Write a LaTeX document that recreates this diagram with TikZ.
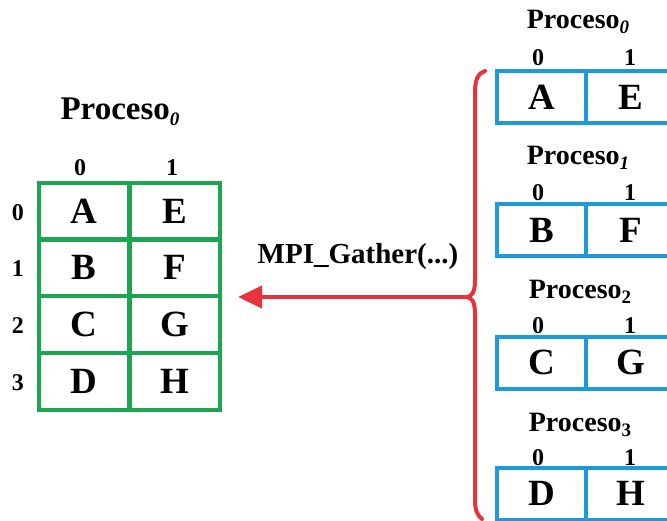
\documentclass[tikz,border=0pt]{standalone}
\usepackage{fontspec}
\setmainfont{Liberation Serif}
\usetikzlibrary{arrows.meta}

\definecolor{gathergreen}{HTML}{1DA650}
\definecolor{procblue}{HTML}{1E9BD7}
\definecolor{gatherred}{HTML}{E8323C}

\newcommand\procsub[1]{\raisebox{-0.4ex}{\fontsize{19}{19}\selectfont #1}}

\begin{document}
\begin{tikzpicture}[x=1pt,y=-1pt,
  greencell/.style={draw=gathergreen,line width=4pt,minimum width=90pt,minimum height=57pt,
    inner sep=0pt,font=\fontsize{37}{37}\selectfont\bfseries},
  bluecell/.style={draw=procblue,line width=4pt,minimum width=89pt,minimum height=52pt,
    inner sep=0pt,font=\fontsize{37}{37}\selectfont\bfseries},
  bigtitle/.style={font=\fontsize{33}{33}\selectfont\bfseries,inner sep=0pt},
  smalltitle/.style={font=\fontsize{28}{28}\selectfont\bfseries,inner sep=0pt},
  idx/.style={font=\fontsize{24}{24}\selectfont\bfseries,inner sep=0pt},
  callfont/.style={font=\fontsize{29}{29}\selectfont\bfseries,inner sep=0pt}]

\useasboundingbox (0,0) rectangle (667,520);

% gathered result on the root process
\node[bigtitle] (roottitle) at (120,112) {Proceso\procsub{\textit{0}}};
\node[idx] (rc0) at (80,168) {0};
\node[idx] (rc1) at (172,168) {1};
\node[greencell] (g00) at (84,211) {A};
\node[greencell] (g01) at (174.5,211) {E};
\node[greencell] (g10) at (84,267.5) {B};
\node[greencell] (g11) at (174.5,267.5) {F};
\node[greencell] (g20) at (84,324.5) {C};
\node[greencell] (g21) at (174.5,324.5) {G};
\node[greencell] (g30) at (84,381.5) {D};
\node[greencell] (g31) at (174.5,381.5) {H};
\node[idx] (rr0) at (18,213) {0};
\node[idx] (rr1) at (18,269) {1};
\node[idx] (rr2) at (18,326) {2};
\node[idx] (rr3) at (18,383) {3};

% send buffers of the four processes
\node[smalltitle] (t0) at (578,22) {Proceso\procsub{\textit{0}}};
\node[idx] (a0) at (538,58) {0};
\node[idx] (b0) at (630,58) {1};
\node[bluecell] (p00) at (541.5,97) {A};
\node[bluecell] (p01) at (630.5,97) {E};

\node[smalltitle] (t1) at (578,158) {Proceso\procsub{\textit{1}}};
\node[idx] (a1) at (538,193) {0};
\node[idx] (b1) at (630,193) {1};
\node[bluecell] (p10) at (541.5,230) {B};
\node[bluecell] (p11) at (630.5,230) {F};

\node[smalltitle] (t2) at (580,292) {Proceso\procsub{2}};
\node[idx] (a2) at (538,326) {0};
\node[idx] (b2) at (630,326) {1};
\node[bluecell] (p20) at (541.5,362.5) {C};
\node[bluecell] (p21) at (630.5,362.5) {G};

\node[smalltitle] (t3) at (580,425) {Proceso\procsub{3}};
\node[idx] (a3) at (538,458) {0};
\node[idx] (b3) at (630,458) {1};
\node[bluecell] (p30) at (541.5,493.5) {D};
\node[bluecell] (p31) at (630.5,493.5) {H};

% brace collecting the buffers and the gather arrow
\coordinate (bracetip) at (466,297);
\coordinate (arrowend) at (238,297);
\draw[gatherred,line width=4pt,line cap=round]
  (485,71) .. controls (478,73) and (475,80) .. (475,92) -- (475,280)
  .. controls (475,292) and (472,297) .. (bracetip)
  .. controls (472,297) and (475,302) .. (475,314) -- (475,500)
  .. controls (475,510) and (477,515) .. (482,519);
\draw[gatherred,line width=4pt,-{Triangle[length=24pt,width=22pt]}] (bracetip) -- (arrowend);
\node[callfont] (call) at (358,257) {MPI\_Gather(...)};
\end{tikzpicture}
\end{document}
